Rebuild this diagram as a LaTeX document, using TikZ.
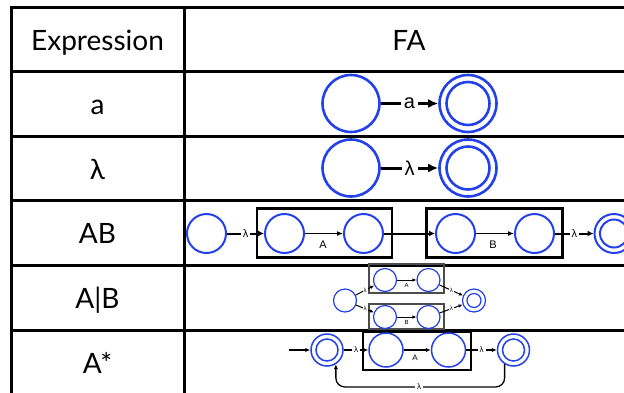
\documentclass[tikz,border=0pt]{standalone}
\usepackage{fontspec}
\setmainfont{Lato}
\newfontfamily\lblfont{Liberation Sans}
\usetikzlibrary{arrows.meta}
\definecolor{fablue}{RGB}{35,65,235}
\begin{document}
\begin{tikzpicture}[x=1pt,y=-1pt,
  grid/.style={line width=3pt,black},
  hdr/.style={font=\fontsize{28}{30}\selectfont, inner sep=0, anchor=base},
  st/.style={circle,draw=fablue,inner sep=0},
  stA/.style={st,line width=2.6pt,minimum size=57pt},
  stAi/.style={st,line width=2.6pt,minimum size=43pt},
  stB/.style={st,line width=2pt,minimum size=39pt},
  stBi/.style={st,line width=2pt,minimum size=28pt},
  stC/.style={st,line width=1.2pt,minimum size=23pt},
  stCi/.style={st,line width=1.2pt,minimum size=14pt},
  stD/.style={st,line width=1.5pt,minimum size=32pt},
  stDi/.style={st,line width=1.5pt,minimum size=22pt},
  boxB/.style={draw=black,line width=2.5pt,inner sep=0},
  boxC/.style={draw=black!70,line width=1.2pt,inner sep=0},
  boxD/.style={draw=black,line width=1.8pt,inner sep=0},
  edA/.style={line width=3pt,-{Latex[length=10pt,width=9pt]}},
  edB/.style={line width=2pt,-{Latex[length=6pt,width=6pt]}},
  edBi/.style={line width=1.5pt,-{Latex[length=6pt,width=5pt]}},
  edC/.style={line width=1pt,-{Latex[length=4pt,width=3.5pt]}},
  edD/.style={line width=1.3pt,-{Latex[length=5pt,width=4.5pt]}},
  lbA/.style={fill=white,inner sep=3pt,font=\lblfont\fontsize{20}{22}\selectfont},
  lbB/.style={fill=white,inner sep=2pt,font=\lblfont\fontsize{11}{12}\selectfont},
  lbC/.style={fill=white,inner sep=1pt,font=\lblfont\fontsize{6}{7}\selectfont},
  lbD/.style={fill=white,inner sep=2pt,font=\lblfont\fontsize{8}{9}\selectfont},
  tx/.style={inner sep=0},
]
\useasboundingbox (0,0) rectangle (624,392);
\clip (0,0) rectangle (624,392);
\fill[white] (0,0) rectangle (624,392);
% table
\draw[grid] (11.5,7) -- (640,7);
\foreach \yy in {71,136,200.5,265,330} {\draw[grid] (10,\yy) -- (640,\yy);}
\draw[grid] (11.5,5.5) -- (11.5,400);
\draw[grid] (184.5,5.5) -- (184.5,400);
% header and row labels
\node[hdr] (hE) at (97.5,50) {Expression};
\node[hdr] (hF) at (409,50) {FA};
\node[hdr] (ra) at (97.5,114) {a};
\node[hdr] (rl) at (97.5,179) {λ};
\node[hdr] (rab) at (97.5,243) {AB};
\node[hdr] (ror) at (97.5,308) {A|B};
\node[hdr] (rst) at (97.5,373) {A*};
% row a
\node[stA] (a1) at (351,103.5) {};
\node[stA] (a2) at (468,103.5) {};
\node[stAi] (a2i) at (a2) {};
\draw[edA] (a1) -- node[lbA] (la) {a} (a2);
% row lambda
\node[stA] (l1) at (351,168) {};
\node[stA] (l2) at (468,168) {};
\node[stAi] (l2i) at (l2) {};
\draw[edA] (l1) -- node[lbA] (ll) {λ} (l2);
% row AB
\node[boxB,minimum width=135pt,minimum height=49pt] (bxA) at (324.5,233) {};
\node[boxB,minimum width=136pt,minimum height=49pt] (bxB) at (494.7,233) {};
\node[stB] (b0) at (206.5,233.5) {};
\node[stB] (b1) at (284.5,233.5) {};
\node[stB] (b2) at (363.5,233.5) {};
\node[stB] (b3) at (455.5,233.5) {};
\node[stB] (b4) at (534.5,233.5) {};
\node[stB] (b5) at (614,233.5) {};
\node[stBi] (b5i) at (b5) {};
\draw[edB] (b0) -- node[lbB] (lb1) {λ} (b1);
\draw[edBi] (b1) -- (b2);
\draw[edB] (b2) -- (b3);
\draw[edBi] (b3) -- (b4);
\draw[edB] (b4) -- node[lbB] (lb2) {λ} (b5);
\node[lbB,fill=none] (tA) at (323,245) {A};
\node[lbB,fill=none] (tB) at (493,245) {B};
% row A|B
\node[boxC,minimum width=75pt,minimum height=29pt] (cbA) at (406.5,278.5) {};
\node[boxC,minimum width=75pt,minimum height=25pt] (cbB) at (406.5,316.5) {};
\node[stC] (c0) at (345,300.5) {};
\node[stC] (c1) at (385,280) {};
\node[stC] (c2) at (428.5,280) {};
\node[stC] (c3) at (385,317) {};
\node[stC] (c4) at (428.5,317) {};
\node[stC] (c5) at (474,300.5) {};
\node[stCi] (c5i) at (c5) {};
\draw[edC] (c0) -- node[lbC] (lc1) {λ} (c1);
\draw[edC] (c0) -- node[lbC] (lc2) {λ} (c3);
\draw[edC] (c1) -- (c2);
\draw[edC] (c3) -- (c4);
\draw[edC] (c2) -- node[lbC] (lc3) {λ} (c5);
\draw[edC] (c4) -- node[lbC] (lc4) {λ} (c5);
\node[lbC,fill=none] (tcA) at (406.5,285) {A};
\node[lbC,fill=none] (tcB) at (406.5,322.5) {B};
% row A*
\node[boxD,minimum width=108pt,minimum height=38pt] (dbA) at (417,351) {};
\coordinate (din) at (289,350);
\node[stD] (d0) at (327,350) {};
\node[stDi] (d0i) at (d0) {};
\node[stD,minimum size=34pt] (d1) at (386,350) {};
\node[stD,minimum size=34pt] (d2) at (448.5,350) {};
\node[stD] (d3) at (513.5,350) {};
\node[stDi] (d3i) at (d3) {};
\draw[edD] (din) -- (d0);
\draw[edD] (d0) -- node[lbD] (ld1) {λ} (d1);
\draw[edD] (d1) -- (d2);
\draw[edD] (d2) -- node[lbD] (ld2) {λ} (d3);
\node[lbD,fill=none] (tdA) at (415,358) {A};
\coordinate (dbot) at (419,387);
\draw[edD,rounded corners=9pt] (d3.-122) |- (dbot) -| (d0.-58);
\node[lbD] (ld3) at (dbot) {λ};
\end{tikzpicture}
\end{document}
